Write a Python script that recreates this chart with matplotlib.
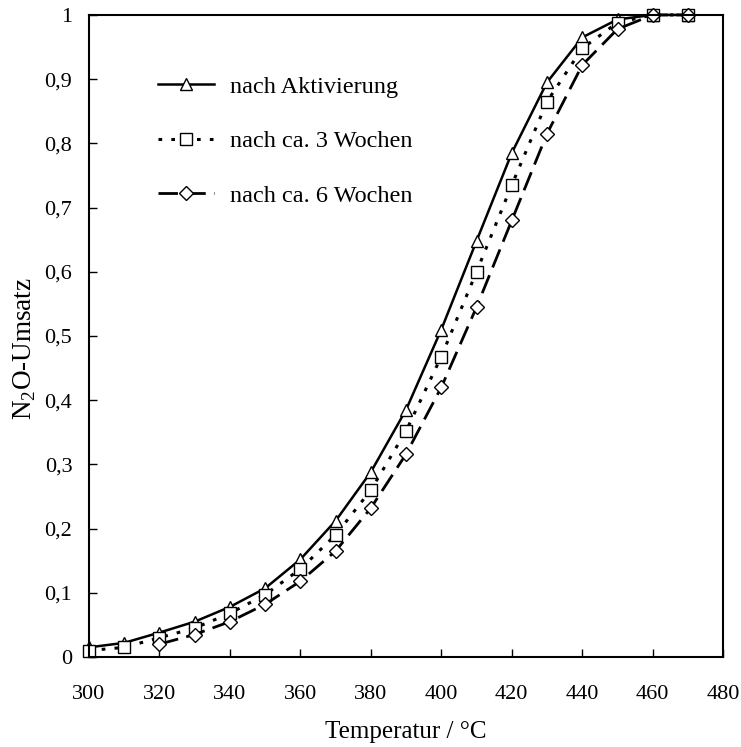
import matplotlib
matplotlib.use("Agg")
from matplotlib import pyplot as plt
from matplotlib.ticker import FuncFormatter

temp = [300, 310, 320, 330, 340, 350, 360, 370, 380, 390,
        400, 410, 420, 430, 440, 450, 460, 470]
aktiv = [0.015, 0.022, 0.038, 0.055, 0.078, 0.107, 0.152, 0.212, 0.288, 0.385,
         0.51, 0.648, 0.785, 0.895, 0.965, 0.993, 1.0, 1.0]
woche3 = [0.01, 0.015, 0.03, 0.045, 0.068, 0.097, 0.137, 0.19, 0.26, 0.352,
          0.468, 0.6, 0.735, 0.865, 0.948, 0.988, 1.0, 1.0]
temp6 = [320, 330, 340, 350, 360, 370, 380, 390,
         400, 410, 420, 430, 440, 450, 460, 470]
woche6 = [0.02, 0.035, 0.055, 0.082, 0.118, 0.165, 0.232, 0.316,
          0.42, 0.545, 0.68, 0.815, 0.922, 0.978, 1.0, 1.0]

plt.rcParams['font.family'] = ['Liberation Serif', 'DejaVu Serif']
plt.rcParams['mathtext.fontset'] = 'custom'
plt.rcParams['mathtext.rm'] = 'Liberation Serif'

fig = plt.figure(figsize=(7.41, 7.47), dpi=100)
ax = fig.add_axes([0.120, 0.1205, 0.856, 0.8595])

ax.plot(temp, aktiv, color='black', lw=1.8, ls='-', marker='^', ms=9,
        mfc='white', mec='black', mew=1, clip_on=False,
        label='nach Aktivierung')
ax.plot(temp, woche3, color='black', lw=2.2, ls=(0, (1.2, 3)), marker='s', ms=8,
        mfc='white', mec='black', mew=1, clip_on=False,
        label='nach ca. 3 Wochen')
ax.plot(temp6, woche6, color='black', lw=2.0, ls=(0, (7, 3)), marker='D', ms=7,
        mfc='white', mec='black', mew=1, clip_on=False,
        label='nach ca. 6 Wochen')

ax.set_xlim(300, 480)
ax.set_ylim(0, 1)
ax.set_xticks(range(300, 481, 20))
ax.set_yticks([i / 10 for i in range(11)])
ax.yaxis.set_major_formatter(FuncFormatter(
    lambda v, p: ('%g' % round(v, 1)).replace('.', ',')))
ax.tick_params(direction='in', length=6, width=1, labelsize=16)
ax.tick_params(axis='x', pad=20)
ax.tick_params(axis='y', pad=12)
for s in ax.spines.values():
    s.set_linewidth(1.5)

ax.set_xlabel('Temperatur / °C', fontsize=18)
ax.set_ylabel(r'N$_\mathrm{2}$O-Umsatz', fontsize=19.5)
ax.xaxis.set_label_coords(0.5, -0.10)
ax.yaxis.set_label_coords(-0.08, 0.48)

ax.legend(loc='upper left', bbox_to_anchor=(0.074, 0.939), frameon=False,
          fontsize=17.5, handlelength=2.3, handletextpad=0.66, labelspacing=1.33)

fig.savefig('out.png', dpi=100)
